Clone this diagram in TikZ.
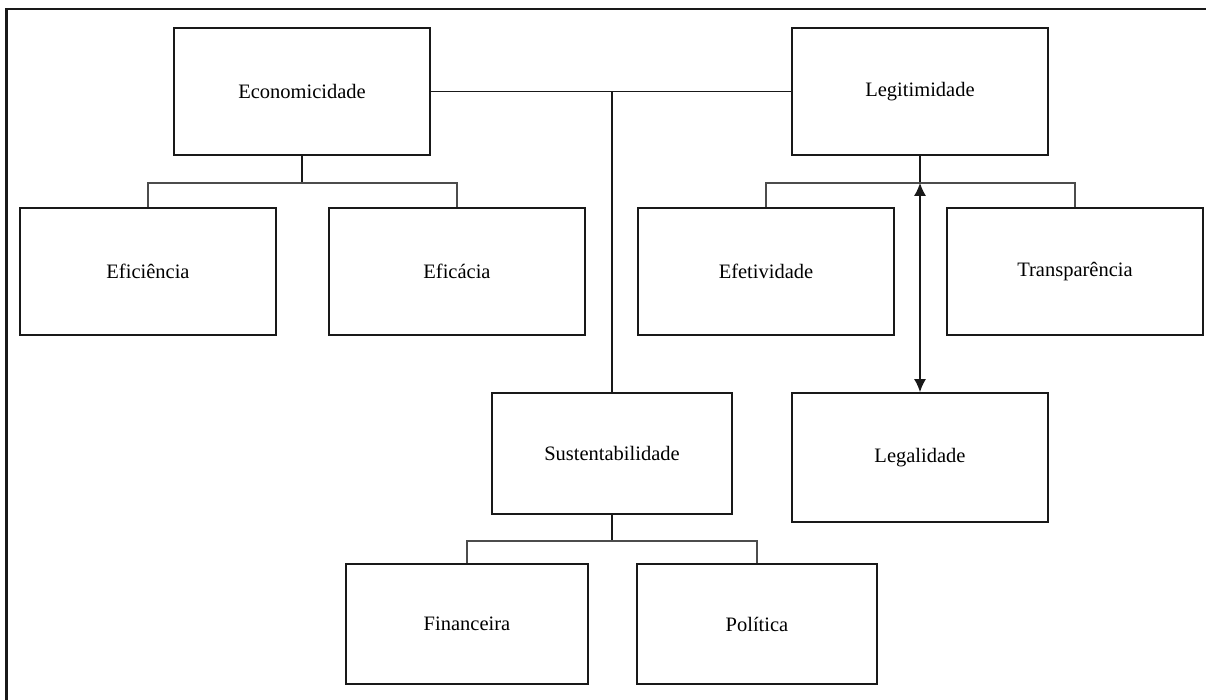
\documentclass[tikz,border=0pt]{standalone}
\usepackage{fontspec}
\setmainfont{Liberation Serif}
\usetikzlibrary{arrows.meta}
\begin{document}
\begin{tikzpicture}[x=1pt,y=-1pt,
  concept/.style={draw=black!90,line width=1.7pt,rectangle,inner sep=0pt,
    font=\fontsize{20.5}{24}\selectfont},
  link/.style={draw=black!90,line width=1.6pt},
  branch/.style={draw=black!70,line width=1.7pt},
  frameline/.style={draw=black!90,line width=2.2pt}]
\useasboundingbox (0,0) rectangle (1206,700);
% outer frame (only top and left edges fall inside the page)
\draw[frameline] (6.5,700) -- (6.5,9) -- (1206,9);

% concept boxes: centre, width, height
\node[concept,minimum width=256pt,minimum height=127pt] (econ)  at (302,91.5)  {Economicidade};
\node[concept,minimum width=256pt,minimum height=127pt] (legit) at (920,91.5)  {Legitimidade};
\node[concept,minimum width=256pt,minimum height=127pt] (efic)  at (148,271.5) {Eficiência};
\node[concept,minimum width=256pt,minimum height=127pt] (efca)  at (457,271.5) {Eficácia};
\node[concept,minimum width=256pt,minimum height=127pt] (efet)  at (766,271.5) {Efetividade};
\node[concept,minimum width=256pt,minimum height=127pt] (transp) at (1075,271.5) {Transparência};
\node[concept,minimum width=240pt,minimum height=121pt] (sust)  at (612,453.5) {Sustentabilidade};
\node[concept,minimum width=256pt,minimum height=129pt] (legal) at (920,457.5) {Legalidade};
\node[concept,minimum width=242pt,minimum height=120pt] (fin)   at (467,624)   {Financeira};
\node[concept,minimum width=240pt,minimum height=120pt] (pol)   at (757,624)   {Política};

% top-level links
\draw[link] (econ.east) -- (legit.west);
\coordinate (hub) at (sust.north |- econ.east);
\draw[link] (hub) -- (sust.north);

% Economicidade branch
\draw[link] (econ.south) -- ++(0,27) coordinate (ebar);
\draw[branch] (efic.north) |- (ebar) -| (efca.north);

% Legitimidade branch
\draw[link] (legit.south) -- ++(0,27) coordinate (lbar);
\draw[branch] (efet.north) |- (lbar) -| (transp.north);
\draw[link,{Latex[length=13pt,width=12pt]}-{Latex[length=13pt,width=12pt]}] (lbar) -- (legal.north);

% Sustentabilidade branch
\draw[link] (sust.south) -- ++(0,26) coordinate (sbar);
\draw[branch] (fin.north) |- (sbar) -| (pol.north);
\end{tikzpicture}
\end{document}
